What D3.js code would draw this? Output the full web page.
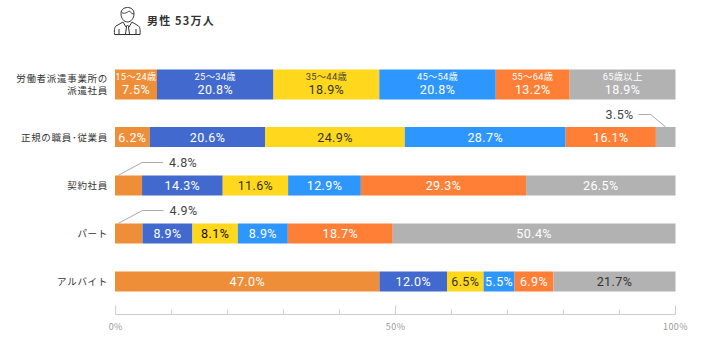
<!DOCTYPE html>
<html>
<head>
<meta charset="utf-8">
<script src="https://cdn.jsdelivr.net/npm/d3@7"></script>
<style>
  html, body { margin: 0; padding: 0; background: #fff; }
  svg { display: block; }
  text { font-family: "Noto Sans CJK JP", "Noto Sans", sans-serif; }
  text.cellLabel { font-family: Roboto, "Noto Sans CJK JP", sans-serif; }
</style>
</head>
<body>
<div id="chart"></div>
<script>
var categories = ["労働者派遣事業所の\n派遣社員", "正規の職員･従業員", "契約社員", "パート", "アルバイト"];
var ageGroups = ["15〜24歳", "25〜34歳", "35〜44歳", "45〜54歳", "55〜64歳", "65歳以上"];
var age15to24 = [7.5, 6.2, 4.8, 4.9, 47.0];
var age25to34 = [20.8, 20.6, 14.3, 8.9, 12.0];
var age35to44 = [18.9, 24.9, 11.6, 8.1, 6.5];
var age45to54 = [20.8, 28.7, 12.9, 8.9, 5.5];
var age55to64 = [13.2, 16.1, 29.3, 18.7, 6.9];
var age65plus = [18.9, 3.5, 26.5, 50.4, 21.7];
var tickValues = [0, 10, 20, 30, 40, 50, 60, 70, 80, 90, 100];
var tickLabels = ["0%", "50%", "100%"];

var seriesValues = [age15to24, age25to34, age35to44, age45to54, age55to64, age65plus];
var colors = ["#ee8e38", "#4169ce", "#ffd71c", "#2e96ff", "#ff7f36", "#b2b2b2"];
var labelColors = ["#fff", "#fff", "#333", "#fff", "#fff", "#fff"];

var width = 710, height = 360;
var svg = d3.select("#chart").append("svg")
    .attr("width", width)
    .attr("height", height);

var xScale = d3.scaleLinear().domain([0, 1]).range([115, 675.5]);
var rowCenter = d3.scaleOrdinal().domain(categories).range([84.5, 137, 185.5, 233.5, 281.5]);
var rowHeight = d3.scaleOrdinal().domain(categories).range([30, 20, 20, 20, 20]);

// rows do not add up to exactly 100 in the source, so normalise them
var rows = categories.map(function (c, i) {
    var row = {category: c};
    ageGroups.forEach(function (g, j) {
        row[g] = seriesValues[j][i];
    });
    return row;
});
var stacked = d3.stack().keys(ageGroups).offset(d3.stackOffsetExpand)(rows);

var groups = svg.selectAll("g.series")
    .data(stacked)
    .enter().append("g")
    .attr("class", "series")
    .attr("fill", function (d, i) { return colors[i]; });

groups.selectAll("rect")
    .data(function (d) { return d; })
    .enter().append("rect")
    .attr("x", function (d) { return xScale(d[0]); })
    .attr("y", function (d) { return rowCenter(d.data.category) - rowHeight(d.data.category) / 2; })
    .attr("width", function (d) { return xScale(d[1]) - xScale(d[0]); })
    .attr("height", function (d) { return rowHeight(d.data.category); });

// value labels
stacked.forEach(function (series, s) {
    series.forEach(function (d, r) {
        var value = seriesValues[s][r];
        var cx = (xScale(d[0]) + xScale(d[1])) / 2;
        var cy = rowCenter(d.data.category);
        var fill = labelColors[s];
        if (r === 4 && s === 5) fill = "#333";
        if (r === 3 && s === 2) fill = "#111";
        var valueText = d3.format(".1f")(value) + "%";

        if (value < 5) {
            // small cells get a callout instead
            var onLeft = s === 0;
            var barTop = cy - rowHeight(d.data.category) / 2;
            var midY = barTop - (onLeft ? 13 : 12.5);
            var points = onLeft
                ? [[xScale(d[0]) + 3, barTop], [xScale(d[1]), midY], [xScale(d[1]) + 21, midY]]
                : [[cx, barTop], [cx - 15, midY], [cx - 27, midY]];
            svg.append("path")
                .attr("d", d3.line()(points))
                .attr("fill", "none")
                .attr("stroke", "#aaa")
                .attr("stroke-width", 1);
            svg.append("text")
                .attr("class", "cellLabel")
                .attr("x", onLeft ? xScale(d[1]) + 27 : cx - 32)
                .attr("y", midY + 4.5)
                .attr("text-anchor", onLeft ? "start" : "end")
                .attr("font-size", 12.5)
                .attr("letter-spacing", 0.4)
                .attr("fill", "#444")
                .text(valueText);
            return;
        }

        if (r === 0) {
            // first row carries the age group above the value
            svg.append("text")
                .attr("class", "cellLabel")
                .attr("x", cx)
                .attr("y", cy - 4.8)
                .attr("text-anchor", "middle")
                .attr("font-size", 9.3)
                .attr("letter-spacing", 0.3)
                .attr("fill", s === 2 ? "#444" : "#fff")
                .text(ageGroups[s]);
        }
        svg.append("text")
            .attr("class", "cellLabel")
            .attr("x", cx)
            .attr("y", r === 0 ? cy + 9 : cy + 4.5)
            .attr("text-anchor", "middle")
            .attr("font-size", 12.5)
            .attr("letter-spacing", 0.4)
            .attr("fill", fill)
            .text(valueText);
    });
});

// category labels
categories.forEach(function (c) {
    var lines = c.split("\n");
    lines.forEach(function (line, i) {
        svg.append("text")
            .attr("x", 108)
            .attr("y", rowCenter(c) + 3.5 + (i - (lines.length - 1) / 2) * 12.5)
            .attr("text-anchor", "end")
            .attr("font-size", 9.5)
            .attr("letter-spacing", 0.7)
            .attr("fill", "#333")
            .text(line);
    });
});

// axis
var axisScale = d3.scaleLinear().domain([0, 100]).range([115.7, 675.5]);
var axisY = 314.5;
svg.append("line")
    .attr("x1", axisScale(0)).attr("x2", axisScale(100))
    .attr("y1", axisY).attr("y2", axisY)
    .attr("stroke", "#ccc");
svg.selectAll("line.tick")
    .data(tickValues)
    .enter().append("line")
    .attr("class", "tick")
    .attr("x1", function (d) { return axisScale(d); })
    .attr("x2", function (d) { return axisScale(d); })
    .attr("y1", axisY)
    .attr("y2", function (d) { return d % 50 === 0 ? axisY - 9 : axisY - 5; })
    .attr("stroke", "#ccc");
svg.selectAll("text.tickLabel")
    .data(tickLabels)
    .enter().append("text")
    .attr("class", "tickLabel")
    .attr("x", function (d) { return axisScale(parseFloat(d)); })
    .attr("y", 329.5)
    .attr("text-anchor", "middle")
    .attr("font-size", 9)
    .attr("letter-spacing", 0.4)
    .attr("fill", "#999")
    .text(function (d) { return d; });

// title with person icon
var icon = svg.append("g")
    .attr("transform", "translate(114,7)")
    .attr("fill", "none")
    .attr("stroke", "#333")
    .attr("stroke-width", 1);
icon.append("path").attr("d", "M7 6.5C7 2.5 10 0.5 13.5 0.5S20 2.5 20 6.5C20 11.5 17 15 13.5 15S7 11.5 7 6.5Z");
icon.append("path").attr("d", "M7.5 5C10 8 13 5 15.5 4C17 6 18.5 7 20 7");
icon.append("path").attr("d", "M9 15L2 19C0.8 20 0 22 0.5 27.5H26C26.5 22 25.7 20 24.500 19L18 15");
icon.append("path").attr("d", "M9 15L12 20L13.500 18L15 20L18 15M12.500 20L11.500 27M14.500 20L15.500 27M5 22V27M22 22V27");

svg.append("text")
    .attr("x", 147)
    .attr("y", 25)
    .attr("font-size", 11)
    .attr("font-weight", 700)
    .attr("letter-spacing", 1.2)
    .attr("fill", "#333")
    .text("男性 53万人");
</script>
</body>
</html>
